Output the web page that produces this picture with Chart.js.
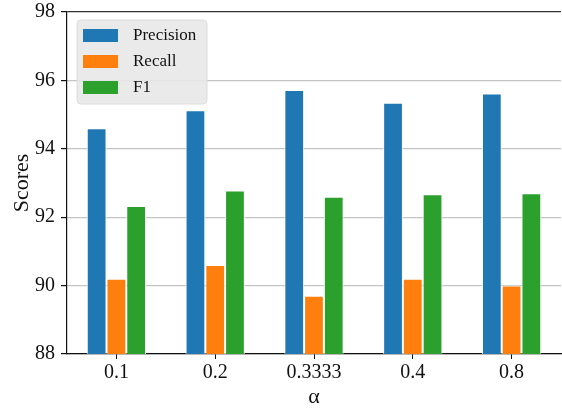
<!DOCTYPE html>
<html>
<head>
<meta charset="utf-8">
<script src="https://cdn.jsdelivr.net/npm/chart.js@4"></script>
<style>
  html, body { margin: 0; padding: 0; background: #fff; }
  #wrap { width: 562px; height: 410px; }
</style>
</head>
<body>
<div id="wrap"><canvas id="grafico"></canvas></div>
<script>
const categorias = ['0.1', '0.2', '0.3333', '0.4', '0.8'];
const precision = [94.6, 95.13, 95.72, 95.35, 95.62];
const recall = [90.2, 90.6, 89.7, 90.2, 90.0];
const f1 = [92.33, 92.78, 92.6, 92.67, 92.7];
const yTicks = [88, 90, 92, 94, 96, 98];

const fuente = "'Liberation Serif', 'DejaVu Serif', serif";

// leyenda dentro del area del grafico, estilo matplotlib
const leyendaInterna = {
    id: 'leyendaInterna',
    afterDraw(chart) {
        const c = chart.ctx;
        const area = chart.chartArea;
        const x = area.left + 10, y = area.top + 8;
        const w = 130, h = 84;
        c.save();
        c.fillStyle = 'rgba(232,232,232,0.9)';
        c.strokeStyle = '#dcdcdc';
        c.lineWidth = 1;
        c.beginPath();
        c.roundRect(x, y, w, h, 4);
        c.fill();
        c.stroke();
        c.font = '17px ' + fuente;
        c.textBaseline = 'middle';
        chart.data.datasets.forEach(function(ds, i) {
            const yy = y + 15 + i * 26;
            c.fillStyle = ds.backgroundColor;
            c.fillRect(x + 6, yy - 6, 35, 13);
            c.fillStyle = '#111';
            c.fillText(ds.label, x + 56, yy + 1);
        });
        c.restore();
    }
};

const ctx = document.getElementById('grafico').getContext('2d');
const grafico = new Chart(ctx, {
    type: 'bar',
    data: {
        labels: categorias,
        datasets: [
            { label: 'Precision', data: precision, backgroundColor: '#1f77b4' },
            { label: 'Recall', data: recall, backgroundColor: '#ff7f0e' },
            { label: 'F1', data: f1, backgroundColor: '#2ca02c' }
        ]
    },
    options: {
        responsive: true,
        maintainAspectRatio: false,
        animation: false,
        datasets: {
            bar: {
                categoryPercentage: 0.6,
                barPercentage: 1,
                borderWidth: 1,
                borderColor: 'rgba(255,255,255,0.85)',
                borderSkipped: 'bottom'
            }
        },
        layout: { padding: { top: 12, right: 1, left: 0, bottom: 0 } },
        plugins: {
            legend: { display: false },
            tooltip: { enabled: false }
        },
        scales: {
            x: {
                afterFit: function(s) { s.height = 56; },
                grid: {
                    offset: false,
                    drawOnChartArea: false,
                    tickLength: 5,
                    tickColor: '#111',
                    tickWidth: 1
                },
                border: { color: '#111', width: 1.2 },
                ticks: {
                    color: '#111',
                    font: { family: fuente, size: 20 },
                    padding: 2
                },
                title: {
                    display: true,
                    text: 'α',
                    color: '#111',
                    font: { family: fuente, size: 22 },
                    padding: { top: 0, bottom: 0 }
                }
            },
            y: {
                min: 88,
                max: 98,
                afterFit: function(s) {
                    s.width = 67;
                    s.paddingTop = 0;
                    s.paddingBottom = 0;
                },
                afterBuildTicks: function(s) {
                    s.ticks = yTicks.map(function(v) { return { value: v }; });
                },
                grid: {
                    color: function(c) {
                        return c.tick && c.tick.value === 98 ? '#333' : '#c4c4c4';
                    },
                    lineWidth: 1.2,
                    tickLength: 6,
                    tickColor: '#111'
                },
                border: { color: '#111', width: 1.2 },
                ticks: {
                    color: '#111',
                    font: { family: fuente, size: 20 },
                    padding: 6
                },
                title: {
                    display: true,
                    text: 'Scores',
                    color: '#111',
                    font: { family: fuente, size: 22 },
                    padding: { top: 9, bottom: 0 }
                }
            }
        }
    },
    plugins: [leyendaInterna]
});
</script>
</body>
</html>
